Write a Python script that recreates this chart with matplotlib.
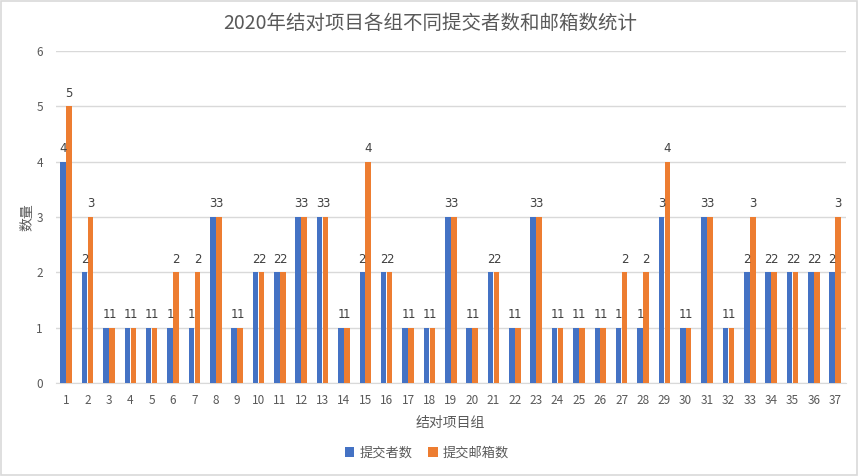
import numpy as np
import matplotlib
matplotlib.use("Agg")
import matplotlib.pyplot as plt
from matplotlib.patches import Rectangle

plt.rcParams['font.family'] = ['Noto Sans CJK SC', 'DejaVu Sans']

groups = [str(i) for i in range(1, 38)]
submitters = [4, 2, 1, 1, 1, 1, 1, 3, 1, 2, 2, 3, 3, 1, 2, 2, 1, 1, 3, 1,
              2, 1, 3, 1, 1, 1, 1, 1, 3, 1, 3, 1, 2, 2, 2, 2, 2]
emails = [5, 3, 1, 1, 1, 2, 2, 3, 1, 2, 2, 3, 3, 1, 4, 2, 1, 1, 3, 1,
          2, 1, 3, 1, 1, 1, 2, 2, 4, 1, 3, 1, 3, 2, 2, 2, 3]
series_names = ['提交者数', '提交邮箱数']

blue = '#4472C4'
orange = '#ED7D31'
text_color = '#595959'

fig = plt.figure(figsize=(8.61, 4.76), dpi=100)
ax = fig.add_axes([0.0645, 0.195, 0.918, 0.698])

x = np.arange(len(groups))
w = 0.26
b1 = ax.bar(x - 0.14, submitters, w, color=blue, label=series_names[0], zorder=3)
b2 = ax.bar(x + 0.14, emails, w, color=orange, label=series_names[1], zorder=3)

# data labels over each bar
for bars in (b1, b2):
    for rect in bars:
        h = rect.get_height()
        ax.text(rect.get_x() + rect.get_width() / 2, h + 0.12, f"{h:g}",
                ha='center', va='bottom', fontsize=8.5, color='#404040',
                family='DejaVu Sans')

ax.set_xlim(-0.5, len(groups) - 0.5)
ax.set_ylim(0, 6)
ax.set_xticks(x)
ax.set_xticklabels(groups)
ax.set_yticks(range(0, 7))
ax.grid(axis='y', color='#D9D9D9', linewidth=1, zorder=0)
for s in ['top', 'right', 'left']:
    ax.spines[s].set_visible(False)
ax.spines['bottom'].set_color('#D9D9D9')
ax.tick_params(axis='both', length=0, colors=text_color, labelsize=8.5, pad=8)
ax.tick_params(axis='y', pad=9)

ax.set_xlabel('结对项目组', color=text_color, fontsize=10, labelpad=6)
ax.set_ylabel('数量', color=text_color, fontsize=10)
ax.yaxis.set_label_coords(-0.027, 0.5)
fig.suptitle('2020年结对项目各组不同提交者数和邮箱数统计', color=text_color,
             fontsize=14, y=0.972)

ax.legend(loc='upper center', bbox_to_anchor=(0.47, -0.155), ncol=2,
          frameon=False, fontsize=9.5, handlelength=0.7, handleheight=0.7,
          handletextpad=0.4, columnspacing=1.2, labelcolor=text_color)

fig.patches.append(Rectangle((0.001, 0.003), 0.994, 0.995, transform=fig.transFigure,
                             fill=False, edgecolor='#D9D9D9', linewidth=1.2))

fig.savefig('out.png', dpi=100)
